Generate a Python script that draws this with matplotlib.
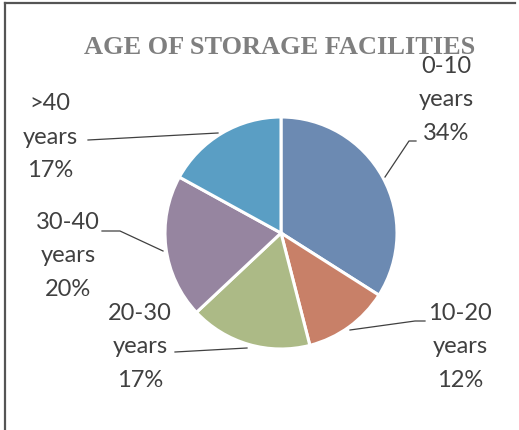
import matplotlib.pyplot as plt
from matplotlib.lines import Line2D

# data
categories = ['0-10\nyears', '10-20\nyears', '20-30\nyears', '30-40\nyears', '>40\nyears']
shares = [34, 12, 17, 20, 17]
colors = ['#6C8AB2', '#C88068', '#ACBA86', '#9685A0', '#5A9EC4']
title = 'AGE OF STORAGE FACILITIES'

W, H = 519, 431


def py(y):
    """Pixel row (from top) to axes y."""
    return H - y


fig = plt.figure(figsize=(W / 100, H / 100), dpi=100)
ax = fig.add_axes([0, 0, 1, 1])
ax.set_xlim(0, W)
ax.set_ylim(0, H)
ax.set_aspect('equal')
ax.axis('off')

wedges, _ = ax.pie(shares, colors=colors, startangle=90, counterclock=False,
                   center=(281, py(234)), radius=116,
                   wedgeprops=dict(edgecolor='white', linewidth=2.2))
ax.set_xlim(0, W)
ax.set_ylim(0, H)

# label positions (pixel coords) and leader lines
label_pos = [(446, 100), (460, 347), (140, 347), (68, 256), (50, 137)]
leaders = [
    [(385, 178), (409, 142), (416, 142)],
    [(350, 331), (415, 322), (425, 322)],
    [(247, 349), (175, 353)],
    [(163, 252), (120, 232), (102, 232)],
    [(218, 134), (88, 141)],
]

for cat, val, (x, y), pts in zip(categories, shares, label_pos, leaders):
    ax.text(x, py(y), f'{cat}\n{val}%', ha='center', va='center',
            fontsize=17, family='Lato', color='#404040', linespacing=1.72)
    ax.plot([p[0] for p in pts], [py(p[1]) for p in pts], color='#404040', lw=0.9)

ax.text(280, py(48), title, ha='center', va='center', fontsize=19,
        family='Liberation Serif', fontweight='bold', color='#7F7F7F')

# outer frame (top and left edges visible)
fig.add_artist(Line2D([5 / W, 5 / W], [0, 1 - 4 / H], color='#555555', lw=1.6,
                      transform=fig.transFigure))
fig.add_artist(Line2D([5 / W, 515 / W], [1 - 4 / H, 1 - 4 / H], color='#555555', lw=1.6,
                      transform=fig.transFigure))

plt.savefig('out.png', dpi=100)
